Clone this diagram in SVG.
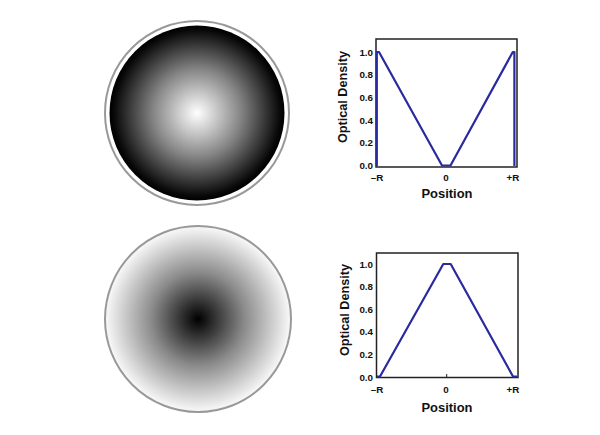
<svg xmlns="http://www.w3.org/2000/svg" width="600" height="435" viewBox="0 0 600 435">
<style>
.ring{fill:none;stroke:#999999;stroke-width:2}
.box{fill:#fff;stroke:#222;stroke-width:1.5}
.curve{fill:none;stroke:#2a2aa0;stroke-width:2.2;stroke-linejoin:round}
.tick{font-family:"Liberation Sans",Arial,sans-serif;font-weight:bold;font-size:9.8px;fill:#111}
.axis{font-family:"Liberation Sans",Arial,sans-serif;font-weight:bold;font-size:12.5px;fill:#111}
</style>
<defs>
<radialGradient id="gTop" cx="0.5" cy="0.5" r="0.5">
<stop offset="0" stop-color="#ffffff"/>
<stop offset="0.5" stop-color="#858585"/>
<stop offset="0.95" stop-color="#080808"/>
<stop offset="1" stop-color="#000000"/>
</radialGradient>
<radialGradient id="gBot" cx="0.5" cy="0.5" r="0.5">
<stop offset="0" stop-color="#000000"/>
<stop offset="0.5" stop-color="#8a8a8a"/>
<stop offset="1" stop-color="#fafafa"/>
</radialGradient>
</defs>
<rect width="600" height="435" fill="#fff"/>

<g id="disk-top">
<circle cx="197" cy="113" r="87.5" fill="url(#gTop)"/>
<circle class="ring" cx="197" cy="113" r="92"/>
</g>

<g id="disk-bottom">
<circle cx="198" cy="319" r="93" fill="url(#gBot)"/>
<circle class="ring" cx="198" cy="319" r="93"/>
</g>

<g id="plot-top">
<rect class="box" x="376" y="39" width="141" height="128"/>
<text class="tick" x="373" y="55.5" text-anchor="end">1.0</text>
<text class="tick" x="373" y="78.2" text-anchor="end">0.8</text>
<text class="tick" x="373" y="100.9" text-anchor="end">0.6</text>
<text class="tick" x="373" y="123.6" text-anchor="end">0.4</text>
<text class="tick" x="373" y="146.3" text-anchor="end">0.2</text>
<text class="tick" x="373" y="169" text-anchor="end">0.0</text>
<text class="tick" x="377" y="181" text-anchor="middle">–R</text>
<text class="tick" x="446" y="181" text-anchor="middle">0</text>
<text class="tick" x="513" y="181" text-anchor="middle">+R</text>
<text class="axis" x="447" y="198" text-anchor="middle" textLength="51" lengthAdjust="spacingAndGlyphs">Position</text>
<text class="axis" transform="translate(347,97) rotate(-90)" text-anchor="middle" textLength="92" lengthAdjust="spacingAndGlyphs">Optical Density</text>
<polyline class="curve" points="376.8,166 376.8,52 379,52 442,165.5 450.5,165.5 512.8,52 514.4,52 514.4,166"/>
</g>

<g id="plot-bottom">
<rect class="box" x="376.5" y="253" width="141.5" height="124.5"/>
<text class="tick" x="373" y="267.5" text-anchor="end">1.0</text>
<text class="tick" x="373" y="290.1" text-anchor="end">0.8</text>
<text class="tick" x="373" y="312.7" text-anchor="end">0.6</text>
<text class="tick" x="373" y="335.3" text-anchor="end">0.4</text>
<text class="tick" x="373" y="357.9" text-anchor="end">0.2</text>
<text class="tick" x="373" y="380.5" text-anchor="end">0.0</text>
<line x1="446.7" y1="374" x2="446.7" y2="377.5" stroke="#222" stroke-width="1"/>
<text class="tick" x="377" y="393" text-anchor="middle">–R</text>
<text class="tick" x="446" y="393" text-anchor="middle">0</text>
<text class="tick" x="513" y="393" text-anchor="middle">+R</text>
<text class="axis" x="447" y="412" text-anchor="middle" textLength="51" lengthAdjust="spacingAndGlyphs">Position</text>
<text class="axis" transform="translate(349,310) rotate(-90)" text-anchor="middle" textLength="92" lengthAdjust="spacingAndGlyphs">Optical Density</text>
<polyline class="curve" points="377,376.5 380,376.5 443.3,264 450.7,264 513,376.5 517,376.5"/>
</g>
</svg>
